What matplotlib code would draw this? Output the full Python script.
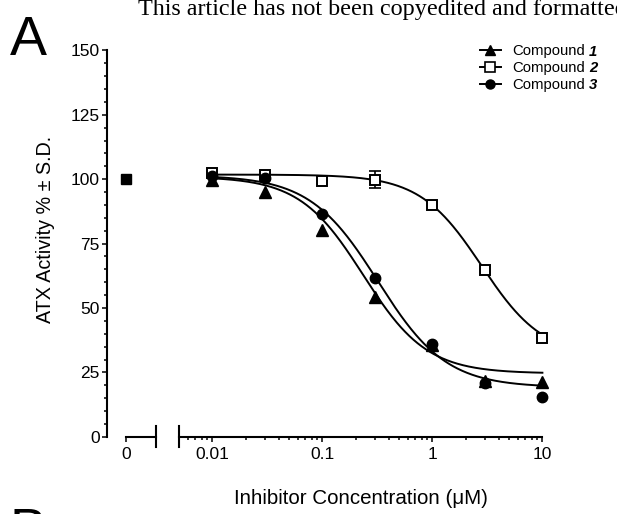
import numpy as np
import matplotlib
matplotlib.use("Agg")
import matplotlib.pyplot as plt
from matplotlib.lines import Line2D
from matplotlib.ticker import FixedLocator, NullFormatter, FixedFormatter

plt.rcParams['font.family'] = ['Liberation Sans', 'DejaVu Sans']

# ---------------- data ----------------
conc = [0.01, 0.03, 0.1, 0.3, 1, 3, 10]          # µM
control_x = [0]
control_y = [100]

c1_y = [99.6, 95.1, 80.4, 54.2, 35.5, 21.6, 21.4]    # Compound 1 (filled triangle)
c2_y = [102.3, 101.8, 99.3, 99.8, 89.8, 64.9, 38.4]  # Compound 2 (open square)
c3_y = [101.2, 100.6, 86.3, 61.6, 36.0, 21.0, 15.6]  # Compound 3 (filled circle)
c2_sd = [0, 0, 0, 3.3, 0, 0, 0]

# fitted 4-parameter logistic curves: top, bottom, IC50, Hill slope
fit1 = dict(top=101.0, bottom=24.6, ic50=0.235, hill=1.5)
fit2 = dict(top=101.8, bottom=31.0, ic50=2.8, hill=1.55)
fit3 = dict(top=101.5, bottom=19.2, ic50=0.32, hill=1.4)

labels = ['Compound', 'Compound', 'Compound']
label_nums = ['1', '2', '3']
yticks = [0, 25, 50, 75, 100, 125, 150]
xticks = [0.01, 0.1, 1, 10]
xticklabels = ['0.01', '0.1', '1', '10']

# ---------------- layout ----------------
W, H = 617, 514
fig = plt.figure(figsize=(W / 100, H / 100), dpi=100)

y_bot_px, y_top_px = 436.8, 50.4
ax_b = (H - y_bot_px) / H
ax_h = (y_bot_px - y_top_px) / H

axL = fig.add_axes([106.7 / W, ax_b, 53.3 / W, ax_h])
axR = fig.add_axes([179.3 / W, ax_b, (542.4 - 179.3) / W, ax_h])
for a in (axL, axR):
    a.patch.set_alpha(0)
    a.set_ylim(0, 150)
    for s in ('top', 'right'):
        a.spines[s].set_visible(False)
    for s in a.spines.values():
        s.set_linewidth(1.5)

TICKFS = 12.5
# left (zero) axes
axL.set_xlim(-1, 1.8)
axL.spines['bottom'].set_bounds(0, 1.6)
axL.set_xticks([0])
axL.set_xticklabels(['0'])
axL.set_yticks(yticks)
axL.yaxis.set_minor_locator(FixedLocator(np.arange(0, 151, 5)))
axL.tick_params(which='major', length=3.6, width=1.1, labelsize=TICKFS, pad=1.5)
axL.tick_params(axis='x', which='major', pad=3.5)
axL.tick_params(which='minor', length=2.2, width=1.1)
axL.plot([1.6, 1.6], [-4.1, 4.1], color='black', lw=1.5, clip_on=False)

# right (log) axes
axR.set_xscale('log')
axR.set_xlim(0.005, 10)
axR.spines['left'].set_visible(False)
axR.spines['bottom'].set_bounds(0.005, 10)
axR.set_yticks([])
axR.yaxis.set_minor_locator(FixedLocator([]))
axR.xaxis.set_major_locator(FixedLocator(xticks))
axR.xaxis.set_major_formatter(FixedFormatter(xticklabels))
minors = [m * 10.0 ** e for e in (-3, -2, -1, 0) for m in range(2, 10)]
minors = [v for v in minors if 0.005 < v < 10]
axR.xaxis.set_minor_locator(FixedLocator(minors))
axR.xaxis.set_minor_formatter(NullFormatter())
axR.tick_params(which='major', length=3.6, width=1.1, labelsize=TICKFS, pad=3.5)
axR.tick_params(which='minor', length=2.2, width=1.1)
axR.plot([0.005, 0.005], [-4.1, 4.1], color='black', lw=1.5, clip_on=False)

# ---------------- marks ----------------
def logistic(x, p):
    return p['bottom'] + (p['top'] - p['bottom']) / (1 + (x / p['ic50']) ** p['hill'])

xs = np.logspace(-2, 1, 400)
LW = 1.4
MS = 7.5
for p in (fit1, fit2, fit3):
    axR.plot(xs, logistic(xs, p), color='black', lw=LW, clip_on=False, zorder=2)

sd = np.array(c2_sd)
idx = sd > 0
axR.errorbar(np.array(conc)[idx], np.array(c2_y)[idx], yerr=sd[idx], fmt='none',
             ecolor='black', elinewidth=1.2, capsize=4, capthick=1.2, zorder=3)

axR.plot(conc, c2_y, ls='none', marker='s', ms=MS, mfc='white', mec='black', mew=1.4,
         clip_on=False, zorder=4)
axR.plot(conc, c3_y, ls='none', marker='o', ms=MS, color='black', clip_on=False, zorder=5)
axR.plot(conc, c1_y, ls='none', marker='^', ms=MS + 0.5, color='black', clip_on=False, zorder=6)

axL.plot(control_x, control_y, ls='none', marker='s', ms=MS, color='black', clip_on=False)

# ---------------- legend ----------------
LEGFS = 10.7
handles = [
    Line2D([], [], color='black', lw=LW, marker='^', ms=7),
    Line2D([], [], color='black', lw=LW, marker='s', ms=6.5, mfc='white', mew=1.2),
    Line2D([], [], color='black', lw=LW, marker='o', ms=6.5),
]
leg = axR.legend(handles, labels, loc='upper left', frameon=False, fontsize=LEGFS,
                 bbox_to_anchor=(479.5 / W, 1 - 44.5 / H), bbox_transform=fig.transFigure,
                 borderpad=0, borderaxespad=0, handlelength=1.45, handletextpad=0.75,
                 labelspacing=0.2)
fig.canvas.draw()
for t, n in zip(leg.get_texts(), label_nums):
    axR.annotate(n, xy=(1, 0), xycoords=t, xytext=(3, 0), textcoords='offset points',
                 va='bottom', ha='left', fontsize=LEGFS, fontweight='bold',
                 fontstyle='italic', zorder=10, annotation_clip=False)

# ---------------- labels ----------------
fig.text(45.7 / W, 1 - 229 / H, 'ATX Activity % \u00b1 S.D.', rotation=90,
         ha='center', va='center', fontsize=14.2)
fig.text(361 / W, 1 - 504.3 / H, 'Inhibitor Concentration (\u03bcM)',
         ha='center', va='baseline', fontsize=14.8)
fig.text(10 / W, 1 - 55 / H, 'A', fontsize=40, va='baseline', ha='left')
fig.text(10 / W, 1 - 547 / H, 'B', fontsize=40, va='baseline', ha='left')
fig.text(138 / W, 1 - 15 / H, 'This article has not been copyedited and formatted',
         fontsize=17.4, va='baseline', ha='left', family=['Liberation Serif', 'DejaVu Serif'])

fig.savefig('out.png', dpi=100)
